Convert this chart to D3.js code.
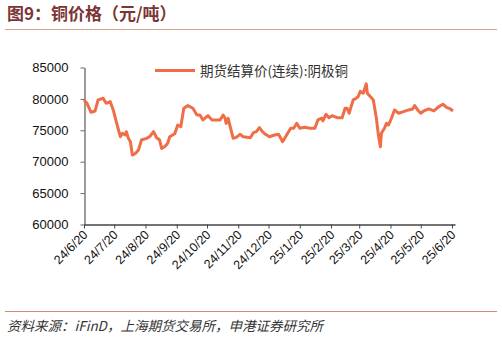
<!DOCTYPE html>
<html><head><meta charset="utf-8">
<script src="https://cdn.jsdelivr.net/npm/d3@7"></script>
<style>
html,body{margin:0;padding:0;background:#fff;}
svg{display:block;}
</style></head>
<body>
<script>
const title = "图9：铜价格（元/吨）";
const source = "资料来源：iFinD，上海期货交易所，申港证券研究所";
const seriesName = "期货结算价(连续):阴极铜";
const dates = ["2024-06-20","2024-06-23","2024-06-27","2024-07-01","2024-07-04","2024-07-09","2024-07-12","2024-07-16","2024-07-19","2024-07-22","2024-07-26","2024-07-28","2024-07-31","2024-08-01","2024-08-03","2024-08-05","2024-08-07","2024-08-10","2024-08-13","2024-08-16","2024-08-21","2024-08-24","2024-08-28","2024-08-31","2024-09-03","2024-09-05","2024-09-08","2024-09-11","2024-09-13","2024-09-18","2024-09-21","2024-09-24","2024-09-27","2024-10-01","2024-10-06","2024-10-10","2024-10-13","2024-10-16","2024-10-21","2024-10-25","2024-11-02","2024-11-05","2024-11-07","2024-11-08","2024-11-10","2024-11-12","2024-11-15","2024-11-18","2024-11-22","2024-11-25","2024-12-02","2024-12-05","2024-12-08","2024-12-11","2024-12-14","2024-12-17","2024-12-21","2024-12-26","2024-12-30","2025-01-03","2025-01-07","2025-01-11","2025-01-14","2025-01-17","2025-01-20","2025-01-25","2025-01-30","2025-02-04","2025-02-07","2025-02-11","2025-02-12","2025-02-15","2025-02-18","2025-02-21","2025-02-26","2025-03-03","2025-03-06","2025-03-08","2025-03-10","2025-03-14","2025-03-17","2025-03-19","2025-03-21","2025-03-24","2025-03-27","2025-03-28","2025-03-31","2025-04-03","2025-04-06","2025-04-08","2025-04-10","2025-04-11","2025-04-14","2025-04-16","2025-04-18","2025-04-21","2025-04-24","2025-04-28","2025-05-03","2025-05-08","2025-05-12","2025-05-14","2025-05-17","2025-05-20","2025-05-23","2025-05-28","2025-06-02","2025-06-07","2025-06-11","2025-06-15","2025-06-18","2025-06-21"];
const prices = [79840,79300,77870,78080,79840,80100,79300,79570,78240,76370,73980,74520,74250,74780,73720,73180,71050,71300,71850,73450,73720,73980,74780,73820,73450,72120,72390,72920,73980,74450,75840,75570,78510,78930,78510,77440,77440,76650,77330,76650,76650,77440,76900,76100,76900,75570,73720,73880,74360,73980,73820,74620,74780,75420,74780,74360,73980,74250,74360,73180,74250,75320,75320,76120,75320,75480,75320,75320,76650,76920,76490,77550,77010,77330,77010,77010,78510,78510,77710,79840,80110,80370,81200,80900,82400,80900,80370,79840,76920,74250,72380,74520,75320,76120,75840,76920,78240,77710,77970,78240,78400,78930,78240,77710,78080,78400,78080,78770,79150,78610,78450,78080];
const tickDates = ["2024-06-20","2024-07-20","2024-08-20","2024-09-20","2024-10-20","2024-11-20","2024-12-20","2025-01-20","2025-02-20","2025-03-20","2025-04-20","2025-05-20","2025-06-20"];
const tickLabels = ["24/6/20","24/7/20","24/8/20","24/9/20","24/10/20","24/11/20","24/12/20","25/1/20","25/2/20","25/3/20","25/4/20","25/5/20","25/6/20"];
const yTicks = [60000,65000,70000,75000,80000,85000];

const W = 502, H = 340;
const parse = d3.timeParse("%Y-%m-%d");
const data = dates.map((d,i)=>({date:parse(d), v:prices[i]}));

const svg = d3.select("body").append("svg").attr("width",W).attr("height",H);

// Title
svg.append("text").attr("x",7).attr("y",20).text(title)
  .attr("font-family","'Noto Sans CJK SC', sans-serif").attr("font-weight","bold")
  .attr("font-size",17).attr("fill","#7b3535");
svg.append("line").attr("x1",5).attr("x2",497).attr("y1",29.5).attr("y2",29.5)
  .attr("stroke","#d9a28d").attr("stroke-width",1.2);

const x = d3.scaleTime().domain([parse("2024-06-20"), parse("2025-06-23")]).range([84,455]);
const y = d3.scaleLinear().domain([60000,85000]).range([224.5,67.5]);

// Y axis
const yAxis = d3.axisLeft(y).tickValues(yTicks).tickSize(4).tickSizeOuter(0).tickPadding(12).tickFormat(d3.format("d"));
const gy = svg.append("g").attr("transform","translate(84.5,0)").call(yAxis);
gy.select(".domain").attr("stroke","#666").attr("stroke-width",1.3);
gy.selectAll(".tick line").attr("stroke","#666");
gy.selectAll("text").attr("font-family","'Liberation Sans', Arial, sans-serif").attr("font-size",13).attr("fill","#111");

// X axis
const xAxis = d3.axisBottom(x).tickValues(tickDates.map(parse)).tickSize(4).tickSizeOuter(0)
  .tickFormat((d,i)=>tickLabels[i]);
const gx = svg.append("g").attr("transform","translate(0,224.5)").call(xAxis);
gx.select(".domain").attr("stroke","#444").attr("stroke-width",1.3);
gx.selectAll(".tick line").attr("stroke","#444");
gx.selectAll("text").attr("font-family","'Liberation Sans', Arial, sans-serif").attr("font-size",12.5).attr("fill","#111")
  .attr("text-anchor","end").attr("dy",null).attr("y",0).attr("x",0)
  .attr("transform","translate(4,11) rotate(-45)");

// Line
const line = d3.line().x(d=>x(d.date)).y(d=>y(d.v));
svg.append("path").datum(data).attr("d",line).attr("fill","none")
  .attr("stroke","#ef6d47").attr("stroke-width",3).attr("stroke-linejoin","round");

// Legend
svg.append("line").attr("x1",155).attr("x2",195).attr("y1",70.5).attr("y2",70.5)
  .attr("stroke","#ef6d47").attr("stroke-width",3);
svg.append("text").attr("x",200).attr("y",75.5).text(seriesName)
  .attr("font-family","'Noto Sans CJK SC', sans-serif").attr("font-size",13.5).attr("fill","#333");

// Footer
svg.append("line").attr("x1",5).attr("x2",497).attr("y1",311.5).attr("y2",311.5)
  .attr("stroke","#d08a76").attr("stroke-width",1.2);
svg.append("text").attr("x",7).attr("y",331).text(source)
  .attr("font-family","'Noto Sans CJK SC', sans-serif").attr("font-style","italic")
  .attr("font-size",13.5).attr("fill","#333");
</script>
</body></html>
